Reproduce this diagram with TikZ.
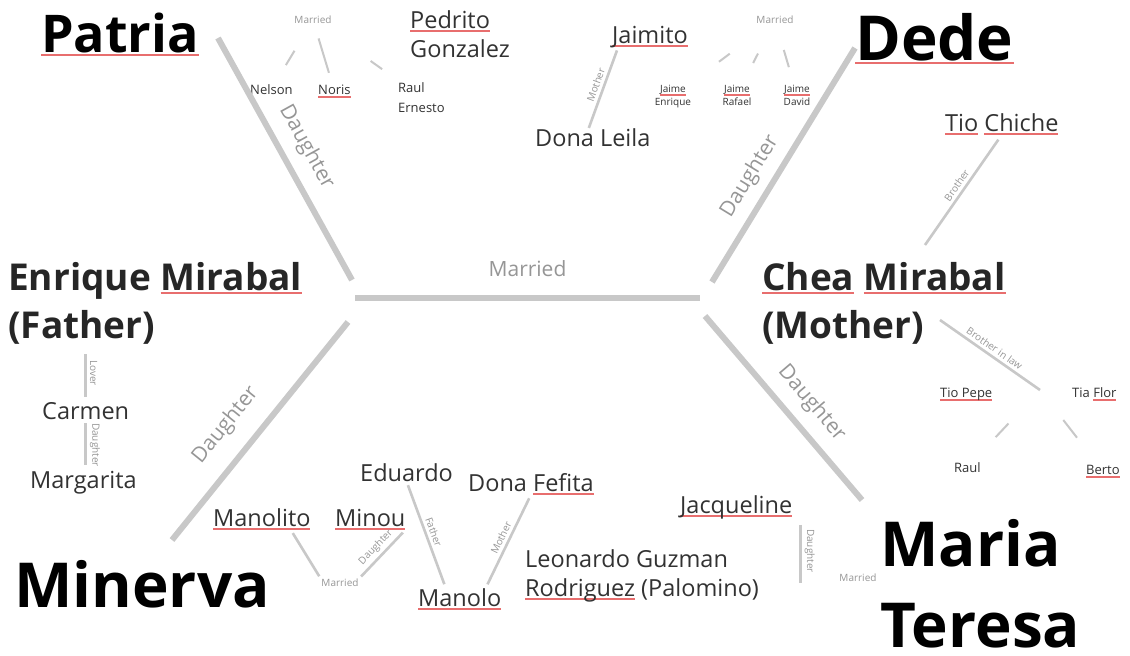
\documentclass[tikz,border=0pt]{standalone}
\usepackage{fontspec}
\setmainfont{Open Sans}
\usetikzlibrary{positioning}
\definecolor{stem}{RGB}{200,200,200}
\definecolor{note}{RGB}{150,150,150}
\definecolor{ink}{RGB}{50,50,50}
\definecolor{squig}{RGB}{232,110,110}
\newsavebox{\typobox}
\newcommand{\typo}[1]{\sbox{\typobox}{#1}\rlap{\textcolor{squig}{\rule[-3.5pt]{\wd\typobox}{1.6pt}}}\usebox{\typobox}}
\tikzset{sister/.style={inner sep=0pt, anchor=base west, align=left, text=black, font=\bfseries\fontsize{#1}{#1}\selectfont}}
\tikzset{parent/.style={inner sep=0pt, anchor=base west, align=left, text=black!85, font=\bfseries\fontsize{37}{48}\selectfont}}

\begin{document}
\begin{tikzpicture}[x=1pt, y=-1pt]
\tikzstyle{trunk} = [line width=6pt, draw=stem]
\tikzstyle{twig} = [line width=2.6pt, draw=stem]
\tikzstyle{hubnote} = [font=\fontsize{21}{24}\selectfont, text=note, inner sep=1pt]
\tikzstyle{rel} = [font=\fontsize{10}{12}\selectfont, text=note, inner sep=1pt]
\tikzstyle{kin} = [inner sep=0pt, anchor=base west, align=left, text=ink, font=\fontsize{23.5}{29}\selectfont]
\tikzstyle{kid} = [inner sep=0pt, anchor=base west, align=left, text=ink, font=\fontsize{13}{20}\selectfont]
\tikzstyle{wee} = [inner sep=0pt, anchor=base, align=center, text=ink, font=\fontsize{10}{13}\selectfont]

\fill[white] (0,0) rectangle (1130,656);
\useasboundingbox (0,0) rectangle (1130,656);

% sisters and parents (multi-line nodes sit on their last line)
\node[sister=52] (patria)  at (41,52)   {\typo{Patria}};
\node[sister=62] (dede)    at (855,60)  {\typo{Dede}};
\node[sister=62] (minerva) at (14,607)  {Minerva};
\node[sister=62] (teresa)  at (880,647) {Maria\\[19pt]Teresa};
\node[parent] (enrique) at (8,338)   {Enrique \typo{Mirabal}\\(Father)};
\node[parent] (chea)    at (762,338) {\typo{Chea} \typo{Mirabal}\\(Mother)};

% Patria
\node[kin] (pedrito) at (410,57) {\typo{Pedrito}\\Gonzalez};
\node[rel] (pmar) at (313,20) {Married};
\node[kid] (nelson) at (250,94) {Nelson};
\node[kid] (noris)  at (318,94) {\typo{Noris}};
\node[kid] (raul)   at (398,112) {Raul\\Ernesto};

% Dede
\node[kin] (jaimito) at (612,43)  {\typo{Jaimito}};
\node[kin] (leila)   at (535,146) {Dona Leila};
\node[rel] (dmar) at (775,20) {Married};
\node[wee] (jenrique) at (673,105) {\typo{Jaime}\\Enrique};
\node[wee] (jrafael)  at (737,105) {\typo{Jaime}\\Rafael};
\node[wee] (jdavid)   at (797,105) {\typo{Jaime}\\David};

% Chea
\node[kin] (chiche) at (945,131) {\typo{Tio} \typo{Chiche}};
\node[kid] (pepe)  at (940,397)  {\typo{Tio Pepe}};
\node[kid] (flor)  at (1072,397) {Tia \typo{Flor}};
\node[kid] (raulc) at (954,472)  {Raul};
\node[kid] (berto) at (1086,474) {\typo{Berto}};

% Enrique
\node[kin] (carmen)    at (42,419) {Carmen};
\node[kin] (margarita) at (30,488) {Margarita};

% Minerva
\node[kin] (manolito) at (213,526) {\typo{Manolito}};
\node[kin] (minou)    at (335,526) {\typo{Minou}};
\node[rel] (mmar) at (340,583) {Married};
\node[kin] (eduardo) at (360,481) {Eduardo};
\node[kin] (fefita)  at (468,491) {Dona \typo{Fefita}};
\node[kin] (manolo)  at (418,606) {\typo{Manolo}};
\node[kin] (leonardo) at (525,596) {Leonardo Guzman\\\typo{Rodriguez} (Palomino)};

% Maria Teresa
\node[kin] (jacq) at (680,513) {\typo{Jacqueline}};
\node[rel] (tmar) at (858,578) {Married};

% hub
\coordinate (hubW) at (355,298);
\coordinate (hubE) at (700,298);
\coordinate (hubNW) at (352,280);
\coordinate (hubNE) at (712,282);
\coordinate (hubSW) at (348,322);
\coordinate (hubSE) at (705,316);
\coordinate (patriaTip)  at (218,38);
\coordinate (dedeTip)    at (855,48);
\coordinate (minervaTip) at (172,540);
\coordinate (teresaTip)  at (862,500);
\coordinate (cheaIn)  at (925,245);
\coordinate (cheaOut) at (940,320);
\coordinate (pepeflor) at (1040,390);

\draw[trunk] (hubW) -- node[above=17pt, hubnote]{Married} (hubE);
\draw[trunk] (patriaTip) -- node[sloped, above=10pt, hubnote]{Daughter} (hubNW);
\draw[trunk] (hubNE) -- node[pos=0.4, sloped, above=8pt, hubnote]{Daughter} (dedeTip);
\draw[trunk] (minervaTip) -- node[pos=0.44, sloped, above=16pt, hubnote]{Daughter} (hubSW);
\draw[trunk] (hubSE) -- node[pos=0.56, sloped, above=10pt, hubnote]{Daughter} (teresaTip);

\path[every node/.style={rel, sloped, above=2pt}]
   ([xshift=6pt]jaimito.south west) edge[twig, shorten <=3pt] node{Mother} ([xshift=-4pt]leila.north)
   (chiche.south) edge[twig, shorten <=6pt] node{Brother} (cheaIn)
   (cheaOut) edge[twig] node{Brother in law} (pepeflor)
   (carmen.north |- enrique.south) edge[twig, shorten <=10pt, shorten >=5pt] node{Lover} (carmen.north)
   (carmen.south) edge[twig, shorten <=4pt, shorten >=6pt] node{Daughter} (carmen.south |- margarita.north)
   (minou.south east) edge[twig, shorten <=4pt, shorten >=2pt] node{Daughter} (mmar.north east)
   (eduardo.south) edge[twig, shorten <=4pt, shorten >=4pt] node{Father} ([xshift=-14pt]manolo.north)
   (fefita.south) edge[twig, shorten <=4pt, shorten >=4pt] node{Mother} ([xshift=26pt]manolo.north)
   ([xshift=8pt]jacq.south east) edge[twig, shorten <=6pt] node{Daughter} ([xshift=8pt]jacq.south east |- tmar.south)
;

\path
   ([xshift=-20pt]manolito.south east) edge[twig, shorten <=4pt, shorten >=2pt] (mmar.north west)
   (pmar) edge[twig, line width=2pt, shorten <=30pt, shorten >=22pt] (nelson)
   (pmar) edge[twig, line width=2pt, shorten <=14pt, shorten >=12pt] (noris)
   (pmar) edge[twig, line width=2pt, shorten <=62pt, shorten >=22pt] (raul)
   (dmar) edge[twig, line width=2pt, shorten <=48pt, shorten >=38pt] (jenrique)
   (dmar) edge[twig, line width=2pt, shorten <=32pt, shorten >=24pt] (jrafael)
   (dmar) edge[twig, line width=2pt, shorten <=26pt, shorten >=18pt] (jdavid)
   (pepeflor) edge[twig, line width=2pt, shorten <=46pt, shorten >=34pt] (raulc)
   (pepeflor) edge[twig, line width=2pt, shorten <=38pt, shorten >=34pt] (berto)
;

\end{tikzpicture}
\end{document}
